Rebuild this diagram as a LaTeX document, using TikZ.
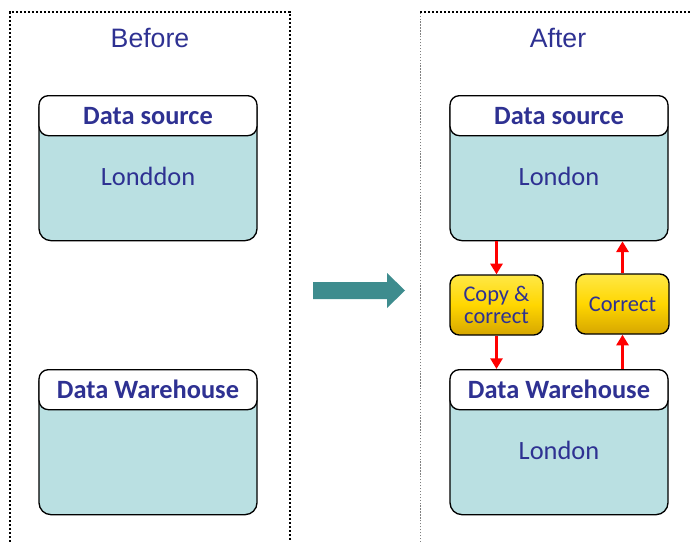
\documentclass[tikz,border=0pt]{standalone}
\usepackage{fontspec}
\setmainfont{Carlito}
\newfontfamily\titlefont{Liberation Sans}
\usetikzlibrary{arrows.meta, positioning}

\definecolor{navytext}{RGB}{46,49,146}
\definecolor{cyanfill}{RGB}{186,224,226}
\definecolor{tealarrow}{RGB}{62,140,142}
\definecolor{goldtop}{RGB}{255,232,70}
\definecolor{goldmid}{RGB}{255,214,0}
\definecolor{goldbot}{RGB}{214,166,0}

\begin{document}
\begin{tikzpicture}[
    x=0.75pt, y=-0.75pt,
    >=Triangle,
    font=\color{navytext},
    frame/.style={line width=1.7pt, dash pattern=on 1.6pt off 1.4pt},
    dbbody/.style={draw, line width=1pt, fill=cyanfill, rounded corners=9pt,
        minimum width=163.5pt, minimum height=108.75pt, anchor=north, inner sep=0pt},
    dbhead/.style={draw, line width=1pt, fill=white, rounded corners=7pt,
        minimum width=163.5pt, minimum height=30pt, anchor=north, inner sep=0pt,
        font=\fontsize{19.8}{22}\selectfont\bfseries\color{navytext}},
    dbtext/.style={font=\fontsize{19.8}{22}\selectfont\color{navytext}},
    title/.style={font=\titlefont\fontsize{20}{22}\selectfont\color{navytext}},
    stepbox/.style={draw, line width=1pt, rounded corners=7pt,
        top color=goldtop, bottom color=goldbot, middle color=goldmid,
        minimum width=69.75pt, minimum height=45pt, inner sep=0pt, align=center,
        font=\fontsize{16.8}{17}\selectfont\color{navytext}},
    redarrow/.style={->, red, line width=2.2pt, >={Triangle[length=8pt, width=9pt]}},
]

\useasboundingbox (0,0) rectangle (692,542);

%============================================================
%  Frames and titles
%============================================================
\draw[frame] (10,542) -- (10,12) -- (290,12) -- (290,542);
\draw[gray, line width=0.6pt, dash pattern=on 1pt off 1.2pt] (420,542) -- (420,12);
\draw[frame] (420,12) -- (692,12);

\node[title] (before) at (150,38) {Before};
\node[title] (after)  at (558,38) {After};

%============================================================
%  Before
%============================================================
\node[dbbody] (srcA) at (148,95) {};
\node[dbhead] (srcAh) at (148,95) {Data source};
\node[dbtext] (srcAt) at (148,176) {Londdon};

\node[dbbody] (dwA) at (148,369) {};
\node[dbhead] (dwAh) at (148,369) {Data Warehouse};

%============================================================
%  Arrow between the two states
%============================================================
\fill[tealarrow] (313,282) -- (387,282) -- (387,273) -- (405,290.5)
    -- (387,308) -- (387,299) -- (313,299) -- cycle;

%============================================================
%  After
%============================================================
\node[dbbody] (srcB) at (559,95) {};
\node[dbhead] (srcBh) at (559,95) {Data source};
\node[dbtext] (srcBt) at (559,176) {London};

\node[dbbody] (dwB) at (559,369) {};
\node[dbhead] (dwBh) at (559,369) {Data Warehouse};
\node[dbtext] (dwBt) at (559,450) {London};

% correction steps
\node[stepbox] (copyB) at (496.5,305) {Copy \&\\correct};
\node[stepbox] (fixB)  at (622.5,304) {Correct};

\draw[redarrow] (copyB.north |- srcB.south) -- (copyB.north);
\draw[redarrow] (copyB.south) -- (copyB.south |- dwBh.north);
\draw[redarrow] (fixB.south |- dwBh.north) -- (fixB.south);
\draw[redarrow] (fixB.north) -- (fixB.north |- srcB.south);

\end{tikzpicture}
\end{document}
